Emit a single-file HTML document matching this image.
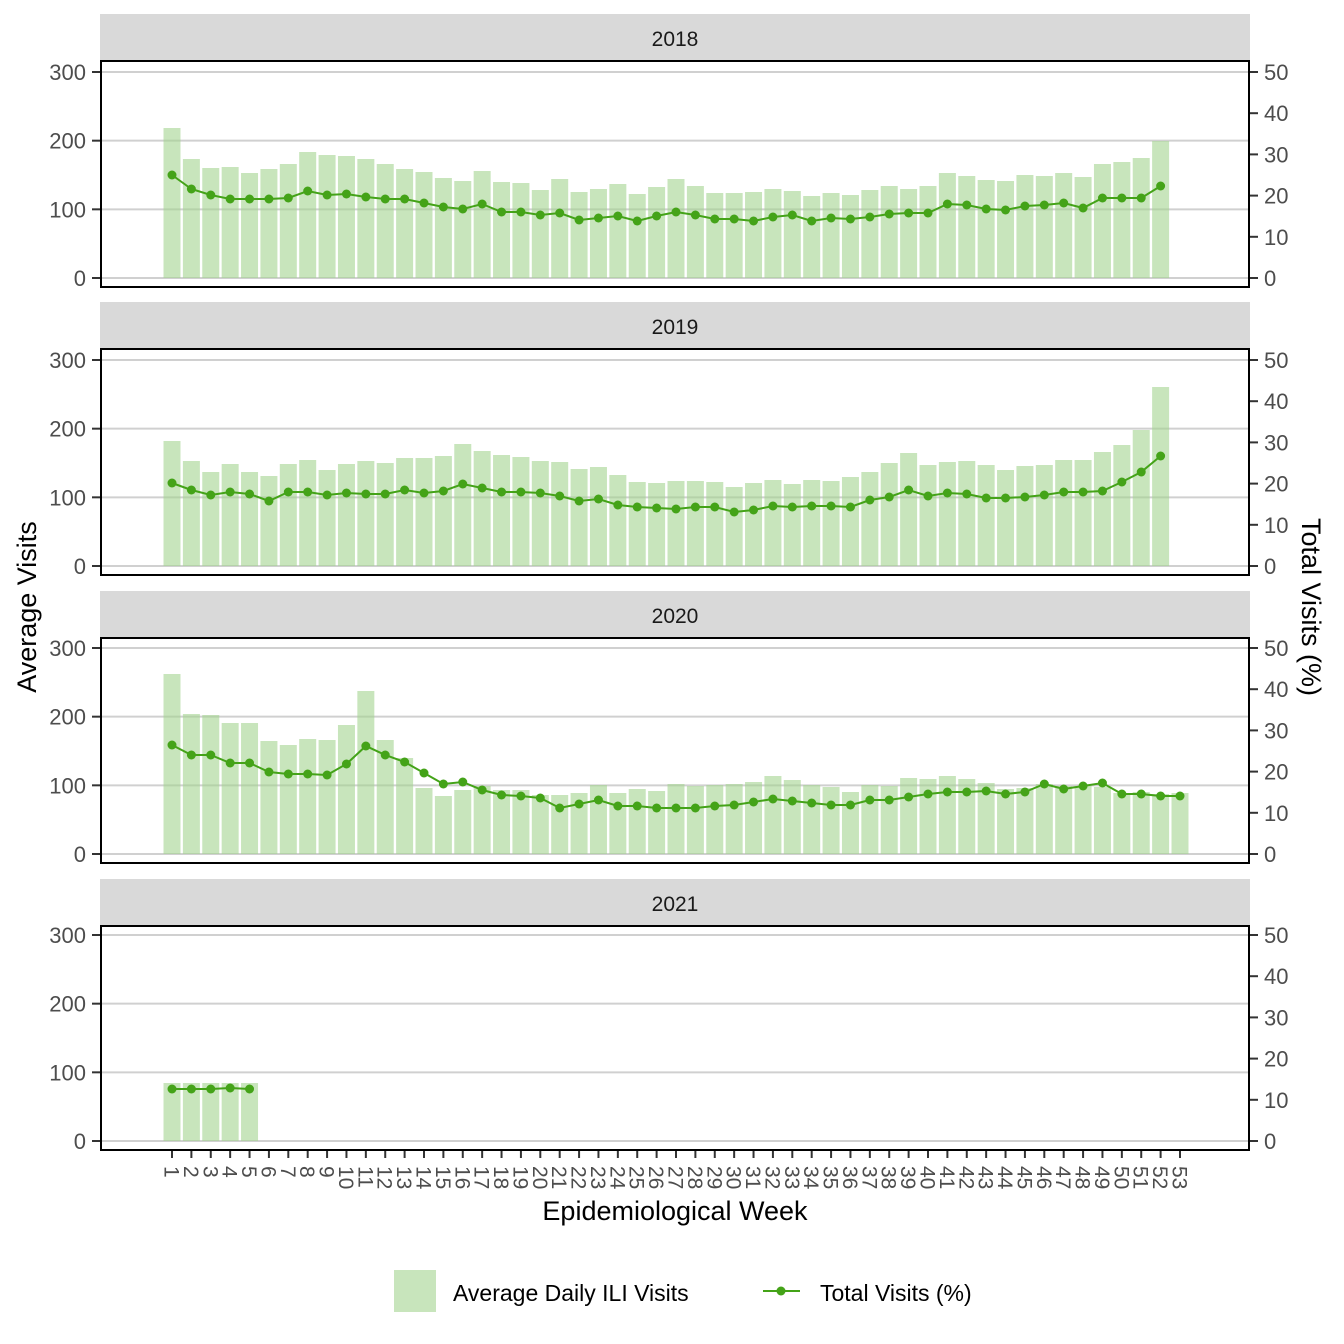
<!DOCTYPE html>
<html><head><meta charset="utf-8"><style>
body{margin:0;background:#fff}
svg{display:block;font-family:"Liberation Sans",Arial,sans-serif}
</style></head><body>
<svg id="s" width="1344" height="1344" xmlns="http://www.w3.org/2000/svg"></svg>
<script>
const B=[
[128,159,168,167,173,169,164,152,155,156,159,164,169,172,178,181,171,182,183,190,179,192,189,184,194,187,179,186,193,193,192,189,191,196,193,195,190,186,189,186,173,176,180,181,175,176,173,177,164,162,158,141],
[441,461,472,464,472,476,464,460,470,464,461,463,458,458,456,444,451,455,457,461,462,469,467,475,482,483,481,481,482,487,483,480,484,480,481,477,472,463,453,465,462,461,465,470,466,465,460,460,452,445,430,387],
[674,714,715,723,723,741,745,739,740,725,691,740,758,788,796,790,786,790,790,795,795,793,785,793,789,791,784,786,785,784,782,776,780,785,787,792,785,786,778,779,776,779,783,789,788,784,786,786,787,793,792,794,793],
[1083,1083,1083,1083,1083]];
const L=[
[175,189,195,199,199,199,198,191,195,194,197,199,199,203,207,209,204,212,212,215,213,220,218,216,221,216,212,215,219,219,221,217,215,221,218,219,217,214,213,213,204,205,209,210,206,205,203,208,198,198,198,186],
[483,490,495,492,494,501,492,492,495,493,494,494,490,493,491,484,488,492,492,493,496,501,499,505,507,508,509,507,507,512,510,506,507,506,506,507,500,497,490,496,493,494,498,498,497,495,492,492,491,482,472,456],
[745,755,755,763,763,772,774,774,775,764,746,755,762,773,784,782,790,795,796,798,808,804,800,806,806,808,808,808,806,805,802,799,801,803,805,805,800,800,797,794,792,792,791,794,792,784,789,786,783,794,794,796,796],
[1089,1089,1089,1088,1089]];
const base=[278,566,854,1141],stripTop=[14,302,591,879],years=["2018","2019","2020","2021"];
const sc=206/300, X=w=>172+(w-1)*1008/52;
let h='';
for(let p=0;p<4;p++){
 const b0=base[p],st=stripTop[p],top=st+46,bot=b0+9;
 h+=`<rect x="100" y="${st}" width="1150" height="46" fill="#d9d9d9"/>`;
 h+=`<text x="675" y="${st+32}" font-size="21" text-anchor="middle" fill="#1a1a1a">${years[p]}</text>`;
 for(let v=0;v<=300;v+=100){const y=b0-v*sc;
  h+=`<line x1="101" x2="1249" y1="${y}" y2="${y}" stroke="#d0d0d0" stroke-width="2"/>`;
  h+=`<line x1="92" x2="100" y1="${y}" y2="${y}" stroke="#333" stroke-width="2"/>`;
  h+=`<text x="86" y="${y+8}" font-size="22" text-anchor="end" fill="#4d4d4d">${v}</text>`;}
 for(let v=0;v<=50;v+=10){const y=b0-v*4.12;
  h+=`<line x1="1250" x2="1258" y1="${y}" y2="${y}" stroke="#333" stroke-width="2"/>`;
  h+=`<text x="1264" y="${y+8}" font-size="22" fill="#4d4d4d">${v}</text>`;}
 B[p].forEach((t,i)=>{h+=`<rect x="${X(i+1)-8.5}" y="${t}" width="17" height="${b0-t}" fill="#a3d48f" fill-opacity="0.6"/>`;});
 h+=`<polyline fill="none" stroke="#44a318" stroke-width="2" points="${L[p].map((y,i)=>X(i+1)+','+y).join(' ')}"/>`;
 L[p].forEach((y,i)=>{h+=`<circle cx="${X(i+1)}" cy="${y}" r="4.5" fill="#44a318"/>`;});
 h+=`<rect x="101" y="${top+1}" width="1148" height="${bot-top-1}" fill="none" stroke="#000" stroke-width="2"/>`;
}
for(let w=1;w<=53;w++){const x=X(w);
 h+=`<line x1="${x}" x2="${x}" y1="1151" y2="1158" stroke="#333" stroke-width="2"/>`;
 h+=`<text transform="translate(${x-7.5},1166) rotate(90)" font-size="21" fill="#4d4d4d">${w}</text>`;}
h+=`<text x="675" y="1220" font-size="27" text-anchor="middle" fill="#000">Epidemiological Week</text>`;
h+=`<text transform="translate(36,607) rotate(-90)" font-size="27" text-anchor="middle" fill="#000">Average Visits</text>`;
h+=`<text transform="translate(1302,607) rotate(90)" font-size="27" text-anchor="middle" fill="#000">Total Visits (%)</text>`;
h+=`<rect x="394" y="1270" width="42" height="42" fill="#a3d48f" fill-opacity="0.6"/>`;
h+=`<text x="453" y="1301" font-size="23" fill="#000">Average Daily ILI Visits</text>`;
h+=`<line x1="763" x2="800" y1="1291" y2="1291" stroke="#44a318" stroke-width="2"/><circle cx="781" cy="1291" r="4.5" fill="#44a318"/>`;
h+=`<text x="820" y="1301" font-size="23" fill="#000">Total Visits (%)</text>`;
document.getElementById('s').innerHTML=h;
</script>
</body></html>
